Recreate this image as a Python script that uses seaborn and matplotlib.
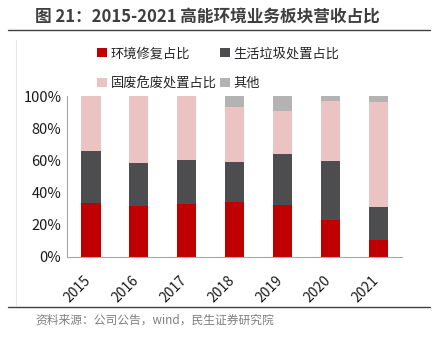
import numpy as np
import pandas as pd
import matplotlib
matplotlib.use("Agg")
import matplotlib.pyplot as plt
import seaborn as sns
from matplotlib.patches import Patch
from matplotlib.ticker import FuncFormatter
import matplotlib.transforms as mtrans

years = ["2015", "2016", "2017", "2018", "2019", "2020", "2021"]
env_repair = [33.7, 31.5, 33.1, 34.0, 32.1, 23.2, 10.8]
household_waste = [32.1, 26.9, 27.1, 25.2, 31.9, 36.4, 20.3]
solid_hazard = [34.2, 41.6, 39.8, 34.0, 26.9, 37.1, 65.0]
others = [0.0, 0.0, 0.0, 6.8, 9.1, 3.3, 3.9]
series_names = ["环境修复占比", "生活垃圾处置占比", "固废危废处置占比", "其他"]
colors = ["#C00000", "#4D4D4F", "#EBC3C3", "#B3B3B3"]

sns.set_theme(style="white")
plt.rcParams["font.family"] = ["Noto Sans CJK SC", "DejaVu Sans"]

df = pd.DataFrame({"year": years, "s0": env_repair, "s1": household_waste,
                   "s2": solid_hazard, "s3": others})
cum = df[["s0", "s1", "s2", "s3"]].cumsum(axis=1)

fig = plt.figure(figsize=(4.36, 3.40), dpi=100)
ax = fig.add_axes([67/436, 1-257/340, (402-67)/436, (257-96)/340])

for i in reversed(range(4)):
    sns.barplot(x=df["year"], y=cum[f"s{i}"], color=colors[i], width=0.4,
                ax=ax, saturation=1, edgecolor="none", linewidth=0)

ax.set_ylim(0, 100)
ax.set_xlim(-0.5, 6.5)
ax.set_yticks([0, 20, 40, 60, 80, 100])
ax.yaxis.set_major_formatter(FuncFormatter(lambda v, p: f"{int(v)}%"))
ax.set_xlabel("")
ax.set_ylabel("")
for s in ["top", "right"]:
    ax.spines[s].set_visible(False)
for s in ["left", "bottom"]:
    ax.spines[s].set_color("#A6A6A6")
    ax.spines[s].set_linewidth(0.8)
ax.set_xticks(np.arange(7))
ax.set_xticklabels(years, rotation=45, fontsize=10, color="#1a1a1a")
ax.tick_params(axis="x", length=0, pad=12)
ax.set_xticks(np.arange(-0.5, 7, 1), minor=True)
ax.tick_params(axis="x", which="minor", length=4, color="#A6A6A6", direction="in")
ax.tick_params(axis="y", labelsize=10.5, colors="#1a1a1a", length=4, color="#A6A6A6", direction="in", pad=4)
offset = mtrans.ScaledTranslation(3/100, 0, fig.dpi_scale_trans)
for lbl in ax.get_xticklabels():
    lbl.set_ha("right")
    lbl.set_va("top")
    lbl.set_transform(lbl.get_transform() + offset)

order = [0, 2, 1, 3]
handles = [Patch(facecolor=colors[k], edgecolor="none") for k in order]
labels = [series_names[k] for k in order]
fig.legend(handles, labels, loc="upper left", bbox_to_anchor=(92/436, 1-42/340),
           ncol=2, frameon=False, fontsize=9.5, handlelength=0.7, handleheight=0.7,
           handletextpad=0.3, columnspacing=0.3, labelspacing=1.25, borderaxespad=0)

fig.text(35/436, 1-17/340, "图 21：2015-2021 高能环境业务板块营收占比", fontsize=12,
         fontweight="bold", color="#3F3F3F", va="center", ha="left")
fig.add_artist(plt.Line2D([8/436, 430/436], [1-30/340, 1-30/340], color="#404040", lw=1))
fig.add_artist(plt.Line2D([8/436, 430/436], [1-307/340, 1-307/340], color="#404040", lw=1))
fig.add_artist(plt.Line2D([16/436, 16/436], [1-40/340, 1-305/340], color="#E6E6E6", lw=0.8))
fig.text(35/436, 1-320/340, "资料来源：公司公告，wind，民生证券研究院", fontsize=8.5,
         color="#7F7F7F", va="center", ha="left")

fig.savefig("out.png", dpi=100)
